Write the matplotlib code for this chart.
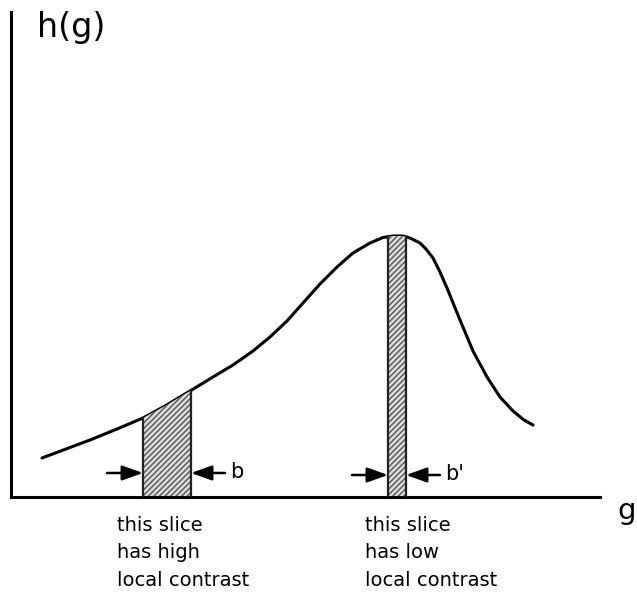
import numpy as np
import matplotlib.pyplot as plt

# Histogram curve h(g) (arbitrary units)
g = [31, 55, 79, 106, 132, 154, 179, 202, 222, 242, 259, 276, 292, 309, 326,
     342, 359, 372, 382, 392, 399, 409, 415, 422, 429, 436, 449, 462, 476,
     489, 502, 513, 522]
h = [39, 48, 57, 68, 79, 91, 106, 120, 132, 146, 160, 176, 194, 213, 230,
     244, 254, 259.5, 261, 261, 259, 254, 248, 239, 225, 209, 177, 146, 120,
     100, 86, 77, 72]

# Slice edges on the g axis
slice_hi = [132, 180]   # wide slice, high local contrast
slice_lo = [377, 395]   # narrow slice at the peak, low local contrast

width_labels = ["b", "b'"]
slice_texts = ["this slice\nhas high\nlocal contrast",
               "this slice\nhas low\nlocal contrast"]

fig = plt.figure(figsize=(6.37, 6.0), dpi=100)
ax = fig.add_axes([11 / 637, 103 / 600, 589 / 637, 485 / 600])
ax.set_xlim(0, 589)
ax.set_ylim(0, 485)

# Axes: only left and bottom lines
for s in ["top", "right"]:
    ax.spines[s].set_visible(False)
for s in ["left", "bottom"]:
    ax.spines[s].set_linewidth(2.2)
ax.set_xticks([])
ax.set_yticks([])

# Curve
ax.plot(g, h, color="black", linewidth=2.2, solid_capstyle="round",
        solid_joinstyle="round")

# Hatched slices
plt.rcParams["hatch.color"] = "#555555"
plt.rcParams["hatch.linewidth"] = 1.0
for lo, hi in [slice_hi, slice_lo]:
    xs = np.linspace(lo, hi, 20)
    top = np.interp(xs, g, h)
    ax.fill_between(xs, 0, top, facecolor="#dcdcdc", edgecolor="none",
                    hatch="//////", zorder=2)
    ax.plot([lo, lo], [0, np.interp(lo, g, h)], color="#222222", lw=1.6, zorder=3)
    ax.plot([hi, hi], [0, np.interp(hi, g, h)], color="#222222", lw=1.6, zorder=3)

# Width arrows with labels
arrow_y = [24, 22]
for (lo, hi), yy, lab in zip([slice_hi, slice_lo], arrow_y, width_labels):
    ax.annotate("", xy=(lo, yy), xytext=(lo - 36, yy),
                arrowprops=dict(arrowstyle="-|>,head_length=0.7,head_width=0.25",
                                color="black", lw=1.8,
                                mutation_scale=18, shrinkA=0, shrinkB=0))
    ax.annotate("", xy=(hi, yy), xytext=(hi + 34, yy),
                arrowprops=dict(arrowstyle="-|>,head_length=0.7,head_width=0.25",
                                color="black", lw=1.8,
                                mutation_scale=18, shrinkA=0, shrinkB=0))
    ax.text(hi + 39, yy + 1, lab, fontsize=15, va="center", ha="left")

# Axis labels
ax.text(26, 470, "h(g)", fontsize=24, va="center", ha="left", clip_on=False)
ax.text(606, -14, "g", fontsize=21, va="center", ha="left", clip_on=False)

# Captions under the slices
for x0, txt in zip([106, 354], slice_texts):
    ax.text(x0, -19, txt, fontsize=14, va="top", ha="left",
            linespacing=1.55, clip_on=False)

fig.savefig("out.png", dpi=100)
